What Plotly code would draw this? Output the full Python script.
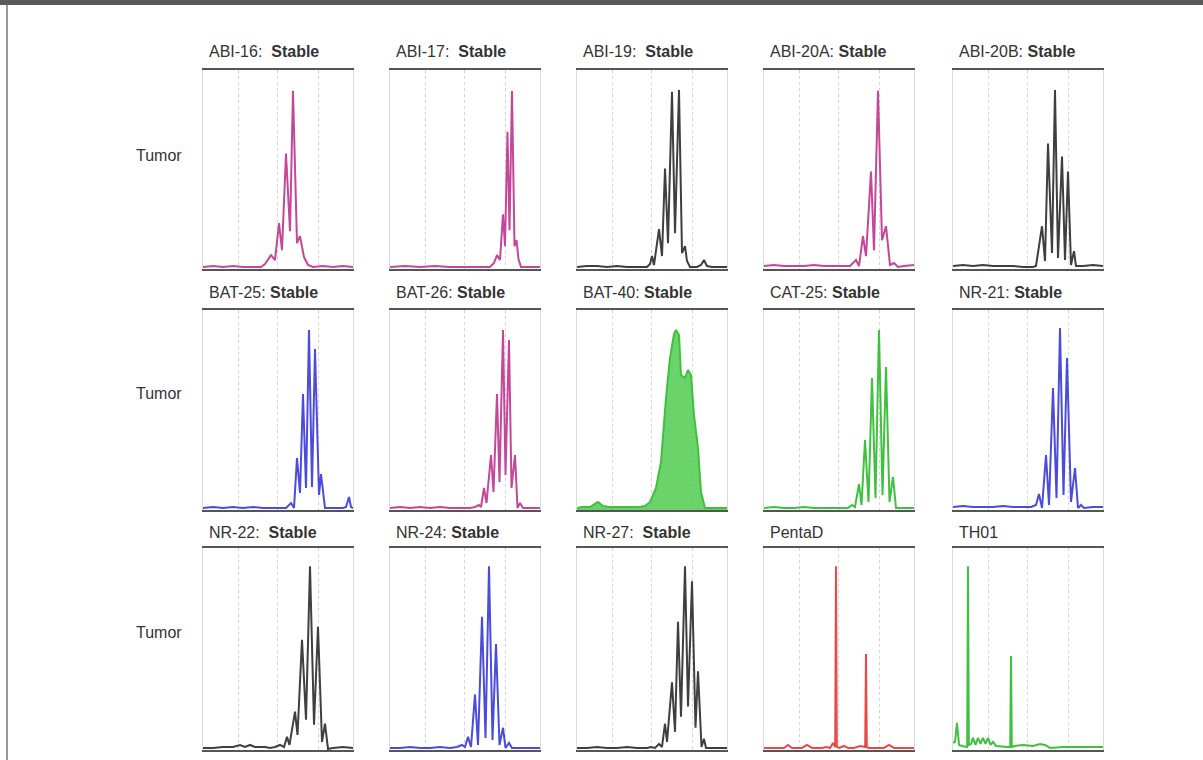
import plotly.graph_objects as go

# ---- data: electropherogram vertices per marker (size units, signal units) ----
ABI16_x = [0, 10, 20, 30, 40, 50, 58, 62, 66, 68, 72, 76, 79, 83, 87, 90, 94, 97, 101, 105, 110, 120, 130, 140, 150]
ABI16_y = [2, 3, 2, 3, 2, 2, 2, 5, 11, 14, 9, 46, 19, 116, 38, 179, 26, 33, 12, 4, 2, 3, 2, 3, 2]

ABI17_x = [0, 15, 30, 45, 60, 75, 90, 100, 104, 107, 110, 113, 115, 117.5, 119.5, 122, 124.5, 126.5, 128.5, 131, 140, 150]
ABI17_y = [2, 3, 2, 3, 2, 2, 2, 2, 6, 14, 9, 55, 23, 138, 39, 179, 23, 29, 10, 2, 2, 2]

ABI19_x = [0, 10, 20, 30, 40, 50, 60, 70, 73, 75, 77, 82, 85, 88, 91, 95, 98, 102, 105, 108, 110, 113, 120, 124, 127, 130, 135, 150]
ABI19_y = [2, 3, 3, 2, 3, 2, 2, 2, 5, 13, 4, 40, 13, 101, 26, 178, 36, 180, 16, 23, 8, 2, 2, 4, 9, 3, 2, 2]

ABI20A_x = [0, 10, 20, 30, 40, 50, 60, 70, 80, 86, 92, 95, 99, 102, 107, 110, 114, 118, 122, 126, 130, 134, 140, 150]
ABI20A_y = [3, 4, 3, 3, 3, 4, 3, 3, 3, 3, 9, 3, 33, 13, 98, 19, 179, 29, 43, 4, 6, 2, 3, 4]

ABI20B_x = [0, 10, 20, 30, 40, 50, 60, 70, 80, 83, 89, 92, 95, 99, 102, 105, 109, 112, 115, 118, 121, 123, 130, 140, 150]
ABI20B_y = [3, 4, 3, 4, 3, 3, 3, 2, 2, 3, 43, 8, 126, 16, 180, 11, 113, 9, 98, 4, 18, 3, 3, 4, 3]

BAT25_x = [0, 10, 20, 30, 40, 50, 60, 70, 80, 83, 88, 91, 94, 97, 100, 103, 106, 109, 112, 116, 118, 122, 130, 140, 143, 146, 148, 150]
BAT25_y = [2, 3, 2, 3, 2, 3, 2, 2, 2, 2, 7, 2, 52, 17, 116, 22, 180, 23, 161, 15, 36, 2, 2, 2, 3, 13, 3, 2]

BAT26_x = [0, 10, 20, 30, 40, 50, 60, 70, 80, 85, 89, 91, 94, 96.5, 101, 103.5, 107, 109.5, 113, 115.5, 119, 121.5, 125, 127.5, 130, 133, 140, 150]
BAT26_y = [2, 3, 2, 3, 2, 3, 2, 2, 2, 3, 5, 3, 22, 7, 55, 18, 116, 28, 180, 35, 170, 22, 55, 2, 7, 2, 2, 2]

BAT40_x = [0, 5, 13, 21, 26, 33, 45, 55, 62, 68, 73, 79, 84, 89, 93, 97, 99, 102, 104, 108, 111, 114, 117, 121, 124, 128, 135, 150]
BAT40_y = [2, 3, 3, 8, 4, 3, 3, 3, 3, 4, 8, 22, 48, 112, 152, 176, 180, 175, 135, 132, 140, 135, 95, 62, 18, 2, 2, 2]

CAT25_x = [0, 10, 20, 30, 40, 50, 60, 70, 80, 84, 88, 91, 95, 97.5, 101, 104.5, 108, 111.5, 115, 118.5, 122, 125.5, 129, 132, 140, 150]
CAT25_y = [2, 3, 2, 2, 3, 2, 2, 2, 2, 2, 5, 3, 26, 5, 70, 8, 132, 12, 180, 15, 143, 8, 33, 2, 2, 2]

NR21_x = [0, 10, 20, 30, 40, 50, 60, 70, 78, 83, 86, 89, 93, 96, 100, 103.5, 107, 110.5, 114, 118, 122, 125, 128, 131, 140, 150]
NR21_y = [3, 4, 3, 3, 3, 4, 3, 3, 3, 5, 16, 2, 55, 5, 122, 12, 182, 15, 152, 8, 42, 2, 5, 2, 3, 3]

NR22_x = [0, 10, 20, 30, 37, 42, 47, 52, 57, 62, 67, 72, 77, 81, 84, 86.5, 92, 94.5, 99, 103, 107, 111, 115, 119, 122, 125, 130, 140, 150]
NR22_y = [2, 2, 3, 3, 5, 3, 5, 3, 3, 3, 2, 3, 5, 3, 13, 5, 38, 15, 109, 30, 182, 25, 122, 8, 26, 1, 2, 3, 2]

NR24_x = [0, 10, 20, 30, 40, 50, 60, 67, 72, 75, 78, 81, 85, 88, 92, 95.5, 99, 102.5, 106, 109.5, 113, 115.5, 119, 122, 130, 140, 150]
NR24_y = [2, 2, 3, 2, 2, 3, 2, 3, 5, 3, 13, 3, 55, 5, 132, 12, 182, 10, 105, 5, 22, 2, 7, 2, 2, 2, 2]

NR27_x = [0, 10, 20, 30, 40, 50, 60, 70, 74, 78, 82, 85, 88, 90, 95, 98, 101, 104, 108, 111, 115, 118.5, 121, 124.5, 127, 129, 135, 150]
NR27_y = [2, 2, 3, 2, 2, 3, 2, 2, 3, 2, 6, 3, 26, 8, 67, 18, 127, 33, 182, 43, 167, 22, 78, 3, 11, 2, 2, 2]

PENTAD_x = [0, 10, 20, 24, 28, 38, 43, 48, 58, 62, 66, 69, 71.2, 72, 72.8, 75, 80, 84, 90, 96, 101.2, 102, 102.8, 104.5, 110, 120, 125, 130, 140, 150]
PENTAD_y = [2, 2, 2, 5, 2, 2, 5, 2, 2, 3, 2, 7, 3, 182, 3, 2, 4, 2, 2, 4, 3, 95, 3, 2, 2, 2, 5, 2, 2, 2]

TH01_x = [0, 2, 4, 6, 9, 14.2, 15, 15.8, 18, 20, 22.5, 25, 27.5, 30, 32.5, 35, 37.5, 40, 43, 50, 55, 57.2, 58, 58.8, 62, 70, 80, 87, 92, 97, 110, 120, 130, 150]
TH01_y = [7, 8, 27, 5, 4, 3, 182, 5, 6, 12, 5, 12, 6, 12, 6, 12, 5, 8, 4, 3, 3, 3, 93, 3, 4, 5, 4, 6, 5, 2, 3, 3, 3, 3]

MARKERS = ["ABI-16", "ABI-17", "ABI-19", "ABI-20A", "ABI-20B",
           "BAT-25", "BAT-26", "BAT-40", "CAT-25", "NR-21",
           "NR-22", "NR-24", "NR-27", "PentaD", "TH01"]
STATUS = ["Stable"] * 13 + ["", ""]
SEP = ["\u00a0\u00a0", "\u00a0\u00a0", "\u00a0\u00a0", " ", " ",
       " ", " ", " ", " ", " ",
       "\u00a0\u00a0", " ", "\u00a0\u00a0", "", ""]
ROW_LABELS = ["Tumor", "Tumor", "Tumor"]
GRID_TICKS = [35, 74, 115]

PINK, GRAY, BLUE, GREEN, RED = "#c4479a", "#3f3f3f", "#4b4bdc", "#3fc03f", "#e84a4a"
TRACES = [
    (ABI16_x, ABI16_y, PINK, False), (ABI17_x, ABI17_y, PINK, False),
    (ABI19_x, ABI19_y, GRAY, False), (ABI20A_x, ABI20A_y, PINK, False),
    (ABI20B_x, ABI20B_y, GRAY, False),
    (BAT25_x, BAT25_y, BLUE, False), (BAT26_x, BAT26_y, PINK, False),
    (BAT40_x, BAT40_y, GREEN, True), (CAT25_x, CAT25_y, GREEN, False),
    (NR21_x, NR21_y, BLUE, False),
    (NR22_x, NR22_y, GRAY, False), (NR24_x, NR24_y, BLUE, False),
    (NR27_x, NR27_y, GRAY, False), (PENTAD_x, PENTAD_y, RED, False),
    (TH01_x, TH01_y, GREEN, False),
]

W, H = 1203, 760
COL_LEFT = [203, 390, 577, 764, 953]
PANEL_W = 150
ROW_TOP = [70, 310, 548]
ROW_BOT = [269, 510, 750]
TITLE_Y = [52, 292, 532]
LABEL_Y = [155, 393, 632]
FONT = "Liberation Sans, Arial, sans-serif"

fig = go.Figure()
layout = dict(width=W, height=H, margin=dict(l=0, r=0, t=0, b=0),
              paper_bgcolor="white", plot_bgcolor="white", showlegend=False)
annotations = []

for i, (xs, ys, col, filled) in enumerate(TRACES):
    r, c = divmod(i, 5)
    n = "" if i == 0 else str(i + 1)
    fig.add_trace(go.Scatter(
        x=xs, y=ys, mode="lines", xaxis="x" + n, yaxis="y" + n,
        line=dict(color=col, width=2),
        fill="tozeroy" if filled else None,
        fillcolor="rgba(80,205,80,0.85)" if filled else None,
        hoverinfo="skip"))
    x0 = COL_LEFT[c] / W
    x1 = (COL_LEFT[c] + PANEL_W) / W
    y0 = 1 - ROW_BOT[r] / H
    y1 = 1 - ROW_TOP[r] / H
    layout["xaxis" + n] = dict(domain=[x0, x1], range=[0, 150], anchor="y" + n,
                               tickvals=GRID_TICKS, showticklabels=False, ticks="",
                               showgrid=True, gridcolor="#d4d4d4", griddash="dot", gridwidth=1,
                               zeroline=False, showline=True, linecolor="#555555",
                               linewidth=1.6, mirror=True, fixedrange=True)
    layout["yaxis" + n] = dict(domain=[y0, y1], range=[0, 200], anchor="x" + n,
                               showgrid=False, showticklabels=False, ticks="",
                               zeroline=False, showline=True, linecolor="#dcdcdc",
                               linewidth=1, mirror=True, fixedrange=True)
    title = MARKERS[i] + (":" + SEP[i] + "<b>" + STATUS[i] + "</b>" if STATUS[i] else "")
    annotations.append(dict(x=(COL_LEFT[c] + 4) / W, y=1 - TITLE_Y[r] / H,
                            xref="paper", yref="paper", xanchor="left", yanchor="middle",
                            text=title, showarrow=False,
                            font=dict(family=FONT, size=16, color="#333333")))

for r, lab in enumerate(ROW_LABELS):
    annotations.append(dict(x=184 / W, y=1 - LABEL_Y[r] / H, xref="paper", yref="paper",
                            xanchor="right", yanchor="middle", text=lab, showarrow=False,
                            font=dict(family=FONT, size=16, color="#333333")))

layout["annotations"] = annotations
layout["shapes"] = [
    dict(type="rect", xref="paper", yref="paper", x0=0, x1=1, y0=1 - 5 / H, y1=1,
         fillcolor="#5a5a5a", line=dict(width=0)),
    dict(type="line", xref="paper", yref="paper", x0=7 / W, x1=7 / W, y0=0, y1=1 - 5 / H,
         line=dict(color="#9a9a9a", width=2)),
]
fig.update_layout(**layout)
fig.write_html("out.html", config={"displayModeBar": False},
               post_script="document.body.style.margin='0px';document.body.style.overflow='hidden';")
